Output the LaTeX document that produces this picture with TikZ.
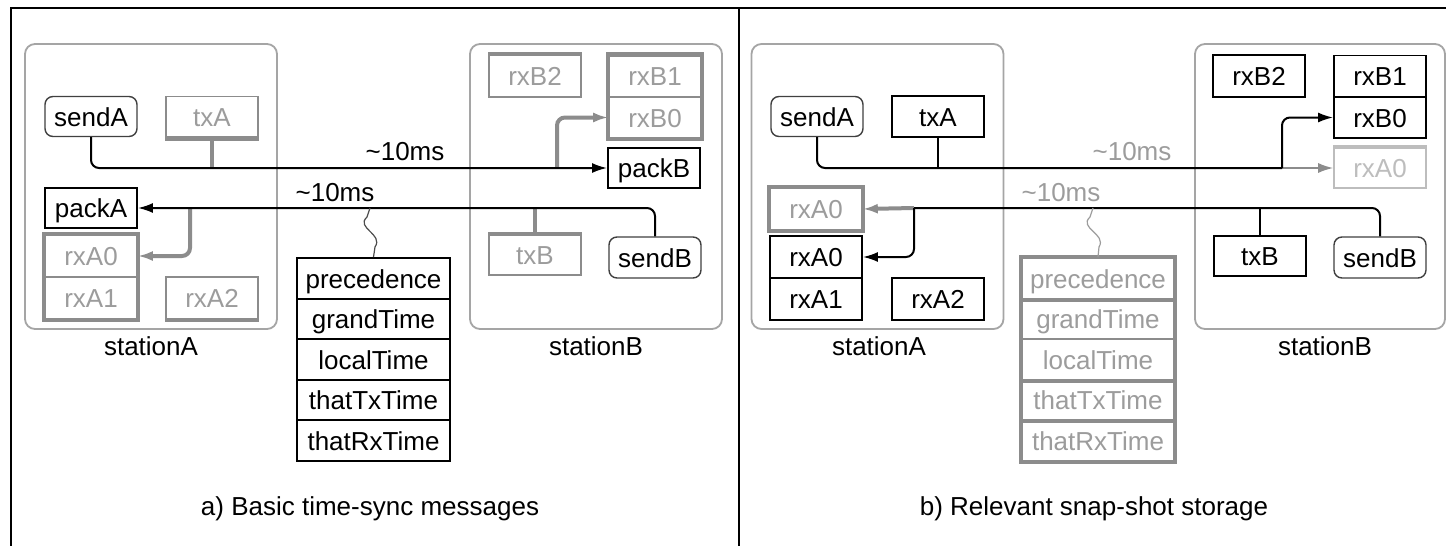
\documentclass[tikz,border=0pt]{standalone}
\usepackage{fontspec}
\setmainfont{Liberation Sans}
\usetikzlibrary{arrows.meta}
\definecolor{gtext}{HTML}{9C9C9C}
\definecolor{gline}{HTML}{8C8C8C}
\definecolor{lgray}{HTML}{BDBDBD}
\definecolor{sbox}{HTML}{A5A5A5}
\tikzset{
  lbl/.style={font=\fontsize{26}{30}\selectfont, inner sep=0pt},
  glbl/.style={lbl, text=gtext},
  cell/.style={lbl, minimum width=92pt, minimum height=41pt, text height=19pt, text depth=0pt, draw=black, line width=1.8pt},
  wcell/.style={cell, minimum width=153pt},
  gcell/.style={cell, draw=gline, text=gtext, line width=1.6pt},
  lcell/.style={cell, draw=lgray, text=lgray, line width=1.6pt},
  rcell/.style={cell, rounded corners=8pt, draw=black!75, line width=1.4pt},
  station/.style={draw=sbox, line width=1.8pt, rounded corners=10pt, minimum width=252pt, minimum height=285pt, inner sep=0pt},
  conn/.style={draw=black, line width=2pt, rounded corners=8pt},
  gconn/.style={draw=gline, line width=4pt, rounded corners=8pt},
  lconn/.style={draw=gline, line width=1.8pt},
  thickedge/.style={draw=gline, line width=4.5pt},
  arr/.style={-{Latex[length=15pt,width=10pt]}},
  wave/.style={draw=black!70, line width=1.2pt},
  gwave/.style={draw=gtext, line width=1.2pt},
  frameline/.style={draw=black, line width=2.4pt},
}
\begin{document}
\begin{tikzpicture}[x=1pt,y=-1pt]
\useasboundingbox (0,0) rectangle (1446,546);
\fill[white] (0,0) rectangle (1446,546);
% frame
\draw[frameline] (11,546) -- (11,8) -- (1446,8);
\draw[frameline] (739,8) -- (739,546);

%================ panel a =================
\node[station] (stA) at (151,186.5) {};
\node[station] (stB) at (596,186.5) {};
\node[lbl] (labA) at (151,346) {stationA};
\node[lbl] (labB) at (596,346) {stationB};

\node[rcell, minimum height=40pt] (sendA) at (91,116.5) {sendA};
\node[gcell] (txA) at (212,117) {txA};
\draw[thickedge] (txA.south west) -- (txA.south east);
\node[cell, minimum height=40pt] (packA) at (91,208) {packA};
\node[gcell, minimum height=42pt] (rxA0a) at (91,256) {rxA0};
\node[gcell, minimum height=42pt] (rxA1a) at (91,298) {rxA1};
\draw[thickedge] (rxA0a.north west) rectangle (rxA1a.south east);
\node[gcell, minimum height=42pt] (rxA2a) at (212,298) {rxA2};
\draw[thickedge] (rxA2a.south west) -- (rxA2a.south east);

\node[gcell, minimum height=42pt] (rxB2a) at (535,76) {rxB2};
\draw[thickedge] (rxB2a.north west) -- (rxB2a.north east);
\node[gcell] (rxB1a) at (655,76) {rxB1};
\node[gcell] (rxB0a) at (655,117.5) {rxB0};
\draw[thickedge] (rxB1a.north west) rectangle (rxB0a.south east);
\node[cell, minimum height=40pt] (packB) at (654,168) {packB};
\node[gcell, minimum height=40pt] (txB) at (535,255) {txB};
\draw[thickedge] (txB.north west) -- (txB.north east);
\node[rcell] (sendB) at (655,257.5) {sendB};

\node[wcell] (p1a) at (373.5,278.5) {precedence};
\node[wcell] (p2a) at (373.5,319) {grandTime};
\node[wcell] (p3a) at (373.5,359.5) {localTime};
\node[wcell] (p4a) at (373.5,400) {thatTxTime};
\node[wcell] (p5a) at (373.5,440.5) {thatRxTime};

\node[lbl] (la1) at (405,152) {\textasciitilde10ms};
\node[lbl] (la2) at (335,193) {\textasciitilde10ms};

\coordinate (jA) at (190,208);
\coordinate (jB) at (557,168);
\coordinate (wA) at (370,208);

\draw[gconn] (txA.south) -- (txA.south |- packB.west);
\draw[gconn] (txB.north) -- (txB.north |- packA.east);
\draw[gconn, arr] (jA) |- (rxA0a.east);
\draw[gconn, arr] (jB) |- (rxB0a.west);
\draw[conn, arr] (sendA.south) |- (packB.west);
\draw[conn, arr] (sendB.north) |- (packA.east);
\draw[wave] (wA) -- (367,217) .. controls (355,228) and (384,234) .. (375,247) -- (p1a.north);

\node[lbl] (capA) at (370,509) {a) Basic time-sync messages};

%================ panel b =================
\node[station] (stAb) at (877.5,186.5) {};
\node[station, minimum width=250pt] (stBb) at (1320,186.5) {};
\node[lbl] (labAb) at (879,346) {stationA};
\node[lbl] (labBb) at (1325,346) {stationB};

\node[rcell, minimum height=40pt] (sendAb) at (817,116.5) {sendA};
\node[cell] (txAb) at (938,116.5) {txA};
\node[gcell, minimum height=42pt] (rxA0Lb) at (816,209) {rxA0};
\draw[thickedge] (rxA0Lb.north west) rectangle (rxA0Lb.south east);
\node[cell, minimum height=42pt] (rxA0b) at (816,257) {rxA0};
\node[cell, minimum height=42pt] (rxA1b) at (816,299) {rxA1};
\node[cell, minimum height=42pt] (rxA2b) at (938,299) {rxA2};

\node[cell, minimum height=42pt] (rxB2b) at (1259,76) {rxB2};
\node[cell] (rxB1b) at (1380,76) {rxB1};
\node[cell] (rxB0b) at (1380,117.5) {rxB0};
\node[lcell, minimum height=40pt] (rxA0Rb) at (1380,168) {rxA0};
\draw[draw=lgray, line width=4pt] (rxA0Rb.north west) -- (rxA0Rb.north east);
\node[cell, minimum height=40pt] (txBb) at (1260,256) {txB};
\node[rcell] (sendBb) at (1380,257.5) {sendB};

\node[wcell, gcell, minimum width=153pt] (p1b) at (1098,278.5) {precedence};
\node[wcell, gcell, minimum width=153pt] (p2b) at (1098,319) {grandTime};
\node[wcell, gcell, minimum width=153pt] (p3b) at (1098,359.5) {localTime};
\node[wcell, gcell, minimum width=153pt] (p4b) at (1098,400) {thatTxTime};
\node[wcell, gcell, minimum width=153pt] (p5b) at (1098,440.5) {thatRxTime};
\draw[draw=gline, line width=4pt] (p1b.north west) rectangle (p5b.south east);
\draw[draw=gline, line width=4pt] (p1b.south west) -- (p1b.south east);
\draw[draw=gline, line width=4pt] (p3b.south west) -- (p3b.south east);
\draw[draw=gline, line width=3pt] (p4b.south west) -- (p4b.south east);

\node[glbl] (lb1) at (1132,152) {\textasciitilde10ms};
\node[glbl] (lb2) at (1061,193) {\textasciitilde10ms};

\coordinate (jC) at (1282,168);
\coordinate (jD) at (914,208);
\coordinate (wB) at (1093,208);

\draw[lconn, arr] (jC) -- (rxA0Rb.west);
\draw[gconn, arr] (jD) -- (rxA0Lb.east);
\draw[conn] (txAb.south) -- (txAb.south |- jC);
\draw[conn] (txBb.north) -- (txBb.north |- jD);
\draw[conn] (sendAb.south) |- (jC);
\draw[conn, arr] (jC) |- (rxB0b.west);
\draw[conn] (sendBb.north) |- (jD);
\draw[conn, arr] (jD) |- (rxA0b.east);
\draw[gwave] (wB) -- (1090,217) .. controls (1078,228) and (1107,234) .. (1099,247) -- (p1b.north);

\node[lbl] (capB) at (1094,509) {b) Relevant snap-shot storage};
\end{tikzpicture}
\end{document}
